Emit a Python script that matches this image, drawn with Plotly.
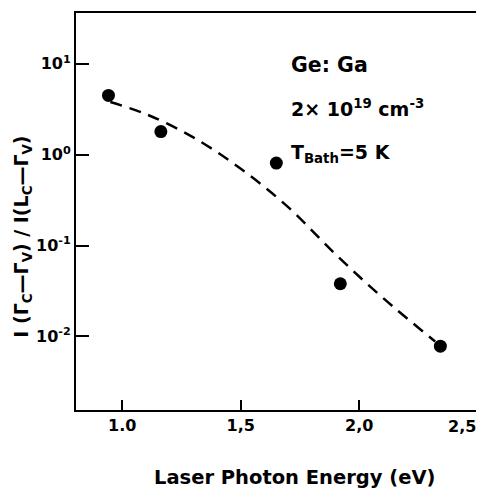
import plotly.graph_objects as go

# measured points
photon_energy = [0.942, 1.163, 1.650, 1.920, 2.342]
intensity_ratio = [4.5, 1.8, 0.81, 0.038, 0.0078]

# dashed guide curve
curve_energy = [0.95, 1.10, 1.30, 1.50, 1.70, 1.90, 2.10, 2.32]
curve_ratio = [3.8, 2.8, 1.55, 0.70, 0.265, 0.080, 0.0265, 0.0088]

x_tick_vals = [1.0, 1.5, 2.0, 2.5]
x_tick_text = ["1.0", "1,5", "2,0", ""]
last_x_label = "2,5"
y_tick_vals = [10, 1, 0.1, 0.01]
y_tick_text = ["10<sup>1</sup>", "10<sup>0</sup>", "10<sup>-1</sup>", "10<sup>-2</sup>"]

x_title = "Laser Photon Energy (eV)"
y_title = "I (Γ<sub>C</sub>—Γ<sub>V</sub>) / I(L<sub>C</sub>—Γ<sub>V</sub>)"

FONT = "DejaVu Sans"
OFF = 8  # default page margin around the plot div
W, H = 484 - OFF, 491 - OFF
# plot area on page: x 76..481, y 12..410
L, R, T, B = 76 - OFF, 3, 12 - OFF, 491 - 410

fig = go.Figure()
fig.add_trace(go.Scatter(
    x=curve_energy, y=curve_ratio, mode="lines", line_shape="spline",
    line=dict(color="black", width=2.5, dash="12px,8px"), showlegend=False,
    hoverinfo="skip"))
fig.add_trace(go.Scatter(
    x=photon_energy, y=intensity_ratio, mode="markers",
    marker=dict(color="black", size=13), showlegend=False))

tick_font = dict(family=FONT, size=16, color="black", weight="bold")
axis_common = dict(showline=True, linecolor="black", linewidth=2, mirror=True,
                   ticks="inside", tickcolor="black", tickwidth=2,
                   showgrid=False, zeroline=False, tickfont=tick_font)

fig.update_xaxes(range=[0.805, 2.505], tickvals=x_tick_vals, ticktext=x_tick_text,
                 ticklen=10, **axis_common)
fig.update_yaxes(type="log", range=[-2.81, 1.56], tickvals=y_tick_vals,
                 ticktext=y_tick_text, ticklen=13, **axis_common)

def px(xp):
    return (xp - 76) / (481 - 76)

def py(yp):
    return (410 - yp) / (410 - 12)

# last x tick label sits shifted left to stay inside the page
fig.add_annotation(text=last_x_label, x=1, xref="paper", y=0, yref="paper",
                   xanchor="right", yanchor="middle", xshift=-1, yshift=-16,
                   showarrow=False, font=tick_font)

title_font = dict(family=FONT, size=19.5, color="black", weight="bold")
fig.add_annotation(text=x_title, x=px(296), y=py(478), xref="paper", yref="paper",
                   xanchor="center", yanchor="middle", showarrow=False, font=title_font)
fig.add_annotation(text=y_title, x=px(22), y=py(236), xref="paper", yref="paper",
                   xanchor="center", yanchor="middle", textangle=-90,
                   showarrow=False, font=dict(family=FONT, size=19, color="black",
                                              weight="bold"))

ann_font = dict(family=FONT, size=19, color="black", weight="bold")
fig.add_annotation(text="Ge: Ga", x=px(290), y=py(64), xref="paper", yref="paper",
                   xanchor="left", yanchor="middle", showarrow=False,
                   font=dict(family=FONT, size=20.5, color="black", weight="bold"))
fig.add_annotation(text="2× 10<sup>19</sup> cm<sup>-3</sup>", x=px(290), y=py(107),
                   xref="paper", yref="paper", xanchor="left", yanchor="middle",
                   showarrow=False, font=ann_font)
fig.add_annotation(text="T<sub>Bath</sub>=5 K", x=px(290), y=py(153),
                   xref="paper", yref="paper", xanchor="left", yanchor="middle",
                   showarrow=False, font=ann_font)

fig.update_layout(width=W, height=H, margin=dict(l=L, r=R, t=T, b=B),
                  paper_bgcolor="white", plot_bgcolor="white",
                  font=dict(family=FONT, color="black"))
fig.write_html("out.html")
